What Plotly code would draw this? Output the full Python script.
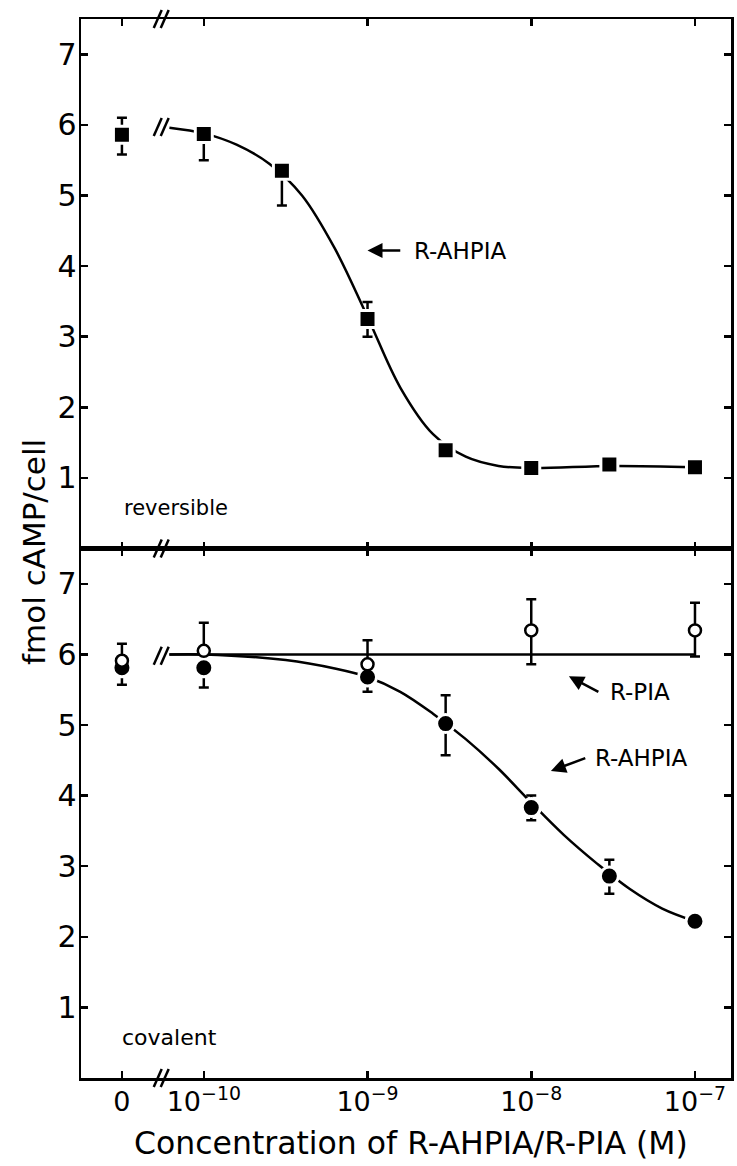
import numpy as np
import plotly.graph_objects as go
from plotly.subplots import make_subplots

# ---------------- data ----------------
# Top panel: reversible, R-AHPIA (filled squares)
rev_conc = [0, 1e-10, 3e-10, 1e-9, 3e-9, 1e-8, 3e-8, 1e-7]
rev_ahpia = [5.86, 5.87, 5.35, 3.25, 1.39, 1.14, 1.19, 1.15]
rev_err_plus = [0.24, 0.0, 0.0, 0.24, 0.0, 0.0, 0.0, 0.0]
rev_err_minus = [0.28, 0.37, 0.49, 0.25, 0.0, 0.0, 0.0, 0.0]

# Bottom panel: covalent, R-AHPIA (filled circles)
cov_conc = [0, 1e-10, 1e-9, 3e-9, 1e-8, 3e-8, 1e-7]
cov_ahpia = [5.81, 5.81, 5.68, 5.02, 3.83, 2.86, 2.22]
cov_ahpia_plus = [0.0, 0.0, 0.0, 0.40, 0.17, 0.23, 0.0]
cov_ahpia_minus = [0.24, 0.28, 0.21, 0.45, 0.18, 0.25, 0.0]

# Bottom panel: covalent, R-PIA (open circles)
pia_conc = [0, 1e-10, 1e-9, 1e-8, 1e-7]
cov_pia = [5.91, 6.05, 5.86, 6.34, 6.34]
cov_pia_plus = [0.24, 0.40, 0.34, 0.44, 0.39]
cov_pia_minus = [0.0, 0.0, 0.0, 0.48, 0.37]

# Fitted curves (log10 concentration, value)
rev_curve_logc = [-10.21, -10.0, -9.8, -9.6, -9.4, -9.2, -9.0, -8.8, -8.6,
                  -8.4, -8.2, -8.0, -7.5, -7.0]
rev_curve_val = [5.96, 5.88, 5.72, 5.45, 5.00, 4.25, 3.28, 2.28, 1.62,
                 1.30, 1.17, 1.14, 1.17, 1.15]
cov_curve_logc = [-10.21, -10.0, -9.5, -9.2, -9.0, -8.8, -8.6, -8.4, -8.2,
                  -8.0, -7.8, -7.6, -7.4, -7.2, -7.0]
cov_curve_val = [6.0, 6.0, 5.92, 5.80, 5.68, 5.47, 5.16, 4.80, 4.38,
                 3.90, 3.44, 3.04, 2.68, 2.40, 2.22]
pia_line_logc = [-10.21, -7.0]
pia_line_val = [6.0, 6.0]

tick_conc = [0, 1e-10, 1e-9, 1e-8, 1e-7]
tick_text = ["0", "10<sup>\u221210</sup>", "10<sup>\u22129</sup>",
             "10<sup>\u22128</sup>", "10<sup>\u22127</sup>"]
y_ticks = [1, 2, 3, 4, 5, 6, 7]

# ---------------- layout helpers ----------------
ZERO_POS = -10.5      # where the "0" control sits on the broken axis
BREAK_POS = -10.26    # position of the axis break marks
XR = [-10.75, -6.78]
YR = [0, 7.5]
FONT = "DejaVu Sans"


def xpos(c):
    return [ZERO_POS if v == 0 else float(np.log10(v)) for v in c]


fig = make_subplots(rows=2, cols=1, shared_xaxes=True, vertical_spacing=0)

LW = 2.5
GAP = dict(color="white", width=3)

# Top panel
fig.add_trace(go.Scatter(x=rev_curve_logc, y=rev_curve_val, mode="lines",
                         line=dict(color="black", width=LW, shape="spline", smoothing=1.0),
                         hoverinfo="skip", showlegend=False), row=1, col=1)
fig.add_trace(go.Scatter(x=xpos(rev_conc), y=rev_ahpia, mode="markers",
                         marker=dict(symbol="square", size=17, color="black", line=GAP),
                         error_y=dict(type="data", symmetric=False, array=rev_err_plus,
                                      arrayminus=rev_err_minus, color="black",
                                      thickness=LW, width=5),
                         showlegend=False), row=1, col=1)

# Bottom panel
fig.add_trace(go.Scatter(x=pia_line_logc, y=pia_line_val, mode="lines",
                         line=dict(color="black", width=LW),
                         hoverinfo="skip", showlegend=False), row=2, col=1)
fig.add_trace(go.Scatter(x=cov_curve_logc, y=cov_curve_val, mode="lines",
                         line=dict(color="black", width=LW, shape="spline", smoothing=1.0),
                         hoverinfo="skip", showlegend=False), row=2, col=1)
fig.add_trace(go.Scatter(x=xpos(cov_conc), y=cov_ahpia, mode="markers",
                         marker=dict(symbol="circle", size=18, color="black", line=GAP),
                         error_y=dict(type="data", symmetric=False, array=cov_ahpia_plus,
                                      arrayminus=cov_ahpia_minus, color="black",
                                      thickness=LW, width=5),
                         name="R-AHPIA", showlegend=False), row=2, col=1)
fig.add_trace(go.Scatter(x=xpos(pia_conc), y=cov_pia, mode="markers",
                         marker=dict(symbol="circle", size=12, color="white",
                                     line=dict(color="black", width=2.5)),
                         error_y=dict(type="data", symmetric=False, array=cov_pia_plus,
                                      arrayminus=cov_pia_minus, color="black",
                                      thickness=LW, width=5),
                         name="R-PIA", showlegend=False), row=2, col=1)

axis_common = dict(showline=True, linecolor="black", linewidth=2.5, mirror="ticks",
                   ticks="inside", ticklen=7, tickwidth=2.5, tickcolor="black",
                   showgrid=False, zeroline=False)

fig.update_xaxes(range=XR, tickvals=xpos(tick_conc), ticktext=tick_text,
                 tickfont=dict(family=FONT, size=27, color="black"),
                 ticklabelstandoff=-2, **axis_common)
fig.update_xaxes(showticklabels=False, row=1, col=1)
fig.update_yaxes(range=YR, tickvals=y_ticks,
                 tickfont=dict(family=FONT, size=30, color="black"),
                 ticklabelstandoff=-4, **axis_common)

fig.update_layout(
    width=737, height=1166,
    margin=dict(l=81, r=3, t=19, b=88),
    paper_bgcolor="white", plot_bgcolor="white",
    font=dict(family=FONT, color="black"),
    showlegend=False,
)

# ---------------- break marks ----------------
px_x = (XR[1] - XR[0]) / 653.0
px_p = 1.0 / 1059.0
px_y = (YR[1] - YR[0]) / 529.5
shapes = []
for ypaper in [1.0, 0.5, 0.0]:
    for off in [-3.5, 3.5]:
        xc = BREAK_POS + off * px_x
        shapes.append(dict(type="line", xref="x", yref="paper",
                           x0=xc - 4 * px_x, x1=xc + 4 * px_x,
                           y0=ypaper - 9 * px_p, y1=ypaper + 9 * px_p,
                           line=dict(color="black", width=2.5)))
for yref, yc in [("y", 5.97), ("y2", 5.98)]:
    for off in [-3.5, 3.5]:
        xc = BREAK_POS + off * px_x
        shapes.append(dict(type="line", xref="x", yref=yref,
                           x0=xc - 4 * px_x, x1=xc + 4 * px_x,
                           y0=yc - 9 * px_y, y1=yc + 9 * px_y,
                           line=dict(color="black", width=2.5)))
fig.update_layout(shapes=shapes)

# ---------------- annotations ----------------
lab = dict(family=FONT, size=23, color="black")
arrow = dict(showarrow=True, arrowhead=2, arrowsize=1.2, arrowwidth=2.5,
             arrowcolor="black", xanchor="left", yanchor="middle", font=lab)
ann = []
# labels with arrows: the text box's left edge sits at the arrow tail
ann.append(dict(x=-9.0, y=4.22, ax=-8.80, ay=4.22, xref="x", yref="y", axref="x", ayref="y",
                text="R-AHPIA", borderpad=13, **arrow))
ann.append(dict(x=-7.77, y=5.69, ax=-7.59, ay=5.47, xref="x2", yref="y2",
                axref="x2", ayref="y2", text="R-PIA", borderpad=11, **arrow))
ann.append(dict(x=-7.88, y=4.35, ax=-7.67, ay=4.53, xref="x2", yref="y2",
                axref="x2", ayref="y2", text="R-AHPIA", borderpad=9, **arrow))
# panel labels
ann.append(dict(x=-10.5, y=0.57, xref="x", yref="y", text="reversible", showarrow=False,
                xanchor="left", yanchor="middle", font=dict(family=FONT, size=21, color="black")))
ann.append(dict(x=-10.51, y=0.58, xref="x2", yref="y2", text="covalent", showarrow=False,
                xanchor="left", yanchor="middle", font=dict(family=FONT, size=22, color="black")))
# axis titles
ann.append(dict(x=-0.0735, y=0.497, xref="paper", yref="paper", text="fmol cAMP/cell",
                textangle=-90, showarrow=False, xanchor="center", yanchor="middle",
                font=dict(family=FONT, size=31, color="black")))
ann.append(dict(x=0.507, y=-0.061, xref="paper", yref="paper",
                text="Concentration of R-AHPIA/R-PIA (M)", showarrow=False,
                xanchor="center", yanchor="middle",
                font=dict(family=FONT, size=31.5, color="black")))
fig.update_layout(annotations=ann)

# remove the default 8px page margin so the figure fills the window exactly
fig.write_html("out.html",
               config={"displayModeBar": False, "staticPlot": True},
               post_script="document.body.style.margin='0px';"
                           "document.documentElement.style.overflow='hidden';")
